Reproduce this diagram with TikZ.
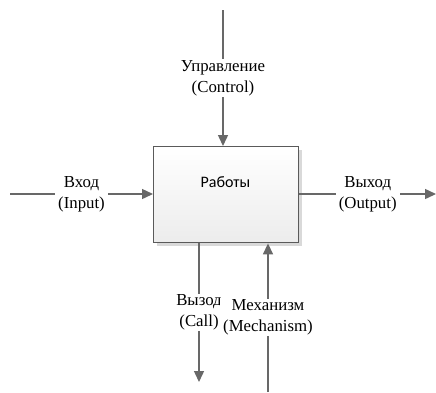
\documentclass[tikz,border=0pt]{standalone}
\usepackage{fontspec}
\setmainfont{Liberation Serif}
\newfontfamily\boxfont{Carlito}
\usetikzlibrary{arrows.meta,shadows}
\definecolor{linegray}{HTML}{686868}
\definecolor{boxgray}{HTML}{5A5A5A}
\definecolor{boxbottom}{HTML}{ECECEC}
\definecolor{shadowgray}{HTML}{D9D9D9}
\begin{document}
\begin{tikzpicture}[x=1pt,y=-1pt,
  conn/.style={draw=linegray, line width=1.4pt, -{Triangle[length=11pt,width=10pt]}},
  lbl/.style={fill=white, font=\fontsize{16.8}{21}\selectfont, align=center, inner xsep=3pt, inner ysep=1pt},
  funcbox/.style={draw=boxgray, line width=1.4pt, top color=white, bottom color=boxbottom,
    drop shadow={shadow xshift=3pt, shadow yshift=-3pt, fill=shadowgray, opacity=1},
    minimum width=145pt, minimum height=96pt, inner sep=0pt, anchor=north west},
  boxtext/.style={font=\boxfont\fontsize{16}{19}\selectfont, text=black}]
\useasboundingbox (0,0) rectangle (436,392);
\node[funcbox] (box) at (153,146) {};
\node[boxtext] (title) at (225.5,182) {Работы};
\coordinate (cTop) at (223,10);
\coordinate (inL) at (10,194);
\coordinate (outR) at (436,194);
\coordinate (callB) at (199,382);
\coordinate (mechB) at (268,392);
\draw[conn] (cTop) -- (box.north -| cTop) node[midway, lbl] (ctl) {Управление\\(Control)};
\draw[conn] (inL) -- (inL -| box.west) node[midway, lbl] (inp) {Вход\\(Input)};
\draw[conn] (outR -| box.east) -- (outR) node[midway, lbl] (outp) {Выход\\(Output)};
\draw[conn] (box.south -| callB) -- (callB) node[midway, lbl] (call) {Вызод\\(Call)};
\draw[conn] (mechB) -- (box.south -| mechB) node[midway, lbl] (mech) {Механизм\\(Mechanism)};
\end{tikzpicture}
\end{document}
